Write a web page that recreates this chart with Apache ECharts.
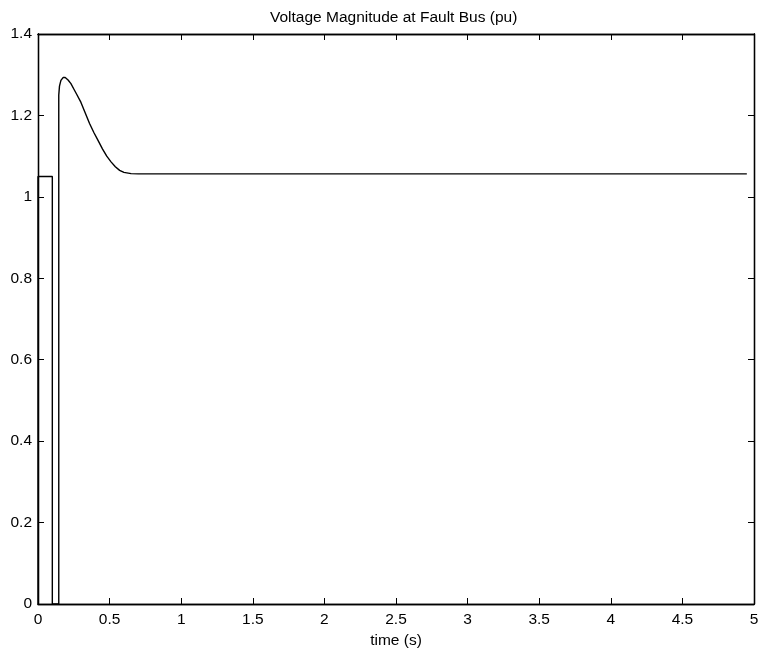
<!DOCTYPE html>
<html>
<head>
<meta charset="utf-8">
<script src="https://cdn.jsdelivr.net/npm/echarts@6/dist/echarts.min.js"></script>
<style>
  html, body { margin: 0; padding: 0; background: #fff; }
  #chart { width: 759px; height: 651px; }
</style>
</head>
<body>
<div id="chart"></div>
<script>
// Fault bus voltage magnitude trace (time in s, voltage in pu)
const timeS = [0, 0, 0.1, 0.1, 0.145, 0.145, 0.15, 0.16, 0.175, 0.19, 0.21, 0.23, 0.25, 0.27,
  0.3, 0.33, 0.36, 0.39, 0.42, 0.45, 0.48, 0.51, 0.54, 0.57, 0.6, 0.65, 0.7, 4.95];
const voltagePu = [0, 1.05, 1.05, 0, 0, 1.25, 1.272, 1.286, 1.293, 1.293, 1.287, 1.278, 1.265, 1.252,
  1.232, 1.206, 1.180, 1.158, 1.138, 1.118, 1.100, 1.086, 1.074, 1.065, 1.060, 1.057, 1.0565, 1.0565];
const xTicks = [0, 0.5, 1, 1.5, 2, 2.5, 3, 3.5, 4, 4.5, 5];
const yTicks = [0, 0.2, 0.4, 0.6, 0.8, 1, 1.2, 1.4];

const chartTitle = 'Voltage Magnitude at Fault Bus (pu)';
const xName = 'time (s)';

const font = 'Liberation Sans, Arial, Helvetica, sans-serif';
const points = timeS.map((t, i) => [t, voltagePu[i]]);

// fresh style objects for each axis
const tickStyle = () => ({ show: true, inside: true, length: 6, lineStyle: { color: '#000', width: 1 } });
const lineStyle = () => ({ show: true, onZero: false, lineStyle: { color: '#000', width: 1.3 } });

// frame axes: line + inward ticks, no labels
const xFrame = (pos, grid) => ({
  type: 'value', gridIndex: grid, position: pos, min: 0, max: 5, interval: 0.5,
  axisLine: lineStyle(), axisTick: tickStyle(), splitLine: { show: false },
  axisLabel: { show: false }
});
const yFrame = (pos, grid) => ({
  type: 'value', gridIndex: grid, position: pos, min: 0, max: 1.4, interval: 0.2,
  axisLine: lineStyle(), axisTick: tickStyle(), splitLine: { show: false },
  axisLabel: { show: false }
});

// both grids share one fixed plot rectangle
const plotRect = () => ({ left: 38, right: 5, top: 34, bottom: 47, containLabel: false, outerBoundsMode: 'none' });

const chart = echarts.init(document.getElementById('chart'), null, { renderer: 'canvas' });
chart.setOption({
  backgroundColor: '#fff',
  animation: false,
  title: {
    text: chartTitle,
    left: 265, top: 5,
    textStyle: { fontFamily: font, fontSize: 15.5, fontWeight: 'normal', color: '#000' }
  },
  grid: [plotRect(), plotRect()],
  xAxis: [{
    type: 'value', gridIndex: 0, position: 'bottom', min: 0, max: 5, interval: 0.5,
    name: xName, nameLocation: 'middle', nameGap: 27,
    nameTextStyle: { fontFamily: font, fontSize: 15.5, color: '#000' },
    axisLine: lineStyle(), axisTick: tickStyle(), splitLine: { show: false },
    axisLabel: {
      fontFamily: font, fontSize: 15.5, color: '#000', margin: 8,
      formatter: v => (xTicks.includes(v) ? String(v) : '')
    }
  }, xFrame('top', 0), xFrame('bottom', 1), xFrame('top', 1)],
  yAxis: [{
    type: 'value', gridIndex: 0, position: 'left', min: 0, max: 1.4, interval: 0.2,
    axisLine: lineStyle(), axisTick: tickStyle(), splitLine: { show: false },
    axisLabel: {
      fontFamily: font, fontSize: 15.5, color: '#000', margin: 6,
      formatter: v => {
        const m = yTicks.find(y => Math.abs(y - v) < 1e-9);
        return m === undefined ? '' : String(m);
      }
    }
  }, yFrame('right', 0), yFrame('left', 1), yFrame('right', 1)],
  series: [{
    type: 'line',
    data: points,
    xAxisIndex: 0, yAxisIndex: 0,
    showSymbol: false, smooth: false,
    lineStyle: { color: '#000', width: 1.4 },
    clip: false
  }]
});
</script>
</body>
</html>
